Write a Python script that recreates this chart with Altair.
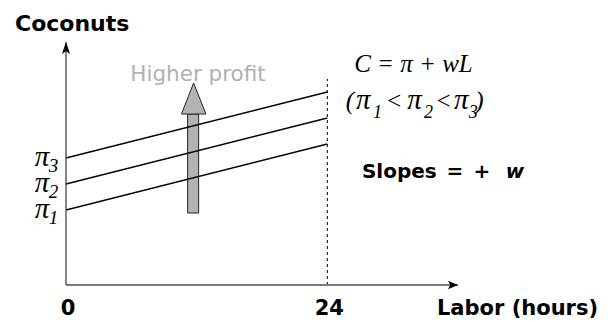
import altair as alt
import pandas as pd

# ---- data ----
profits = [7.5, 10.1, 12.7]          # intercepts pi1 < pi2 < pi3
profit_subs = ["1", "2", "3"]
wage = 0.275                         # common slope w
hours_max = 24                       # time endowment
x_ticks = [0, 24]
x_max, y_max = 36, 24.3              # axis extents (arrow tips)

# block arrow ("Higher profit")
shaft_x = [11.17, 12.18]
shaft_y = [7.2, 17.1]
head_x = [10.6, 11.72, 12.85]
head_y = [17.1, 20.2, 17.1]

W, H = 392, 243
xs = alt.Scale(domain=[0, x_max], nice=False, zero=False)
ys = alt.Scale(domain=[0, y_max], nice=False, zero=False)


def X(f="x"):
    return alt.X(f"{f}:Q", scale=xs, axis=None)


def Y(f="y"):
    return alt.Y(f"{f}:Q", scale=ys, axis=None)


SANS = "DejaVu Sans"
SERIF = "Liberation Serif"

# profit lines
rows = []
for i, p in enumerate(profits):
    for L in (0, hours_max):
        rows.append({"s": i, "x": L, "y": p + wage * L})
lines_df = pd.DataFrame(rows)

lines = alt.Chart(lines_df).mark_line(color="black", strokeWidth=1.3).encode(
    x=X(), y=Y(), detail="s:N"
)

# block arrow
shaft = alt.Chart(pd.DataFrame({"x": [shaft_x[0]], "x2": [shaft_x[1]],
                                "y": [shaft_y[0]], "y2": [shaft_y[1]]})).mark_rect(
    fill="#b3b3b3", stroke="#222", strokeWidth=1
).encode(x=X(), x2="x2:Q", y=Y(), y2="y2:Q")

head = alt.Chart(pd.DataFrame({"x": head_x, "y": head_y,
                               "y2": [head_y[0]] * 3})).mark_area(
    fill="#b3b3b3", stroke="#222", strokeWidth=1, opacity=1
).encode(x=X(), y=Y(), y2="y2:Q")

# dashed line at 24 hours
dash = alt.Chart(pd.DataFrame({"x": [hours_max], "y": [0], "y2": [20.6]})).mark_rule(
    color="black", strokeWidth=1, strokeDash=[3, 3]
).encode(x=X(), y=Y(), y2="y2:Q")

# axes
xaxis = alt.Chart(pd.DataFrame({"x": [0], "x2": [x_max], "y": [0]})).mark_rule(
    color="#7a7a7a", strokeWidth=2
).encode(x=X(), x2="x2:Q", y=Y())
yaxis = alt.Chart(pd.DataFrame({"x": [0], "y": [0], "y2": [y_max]})).mark_rule(
    color="#444", strokeWidth=1.3
).encode(x=X(), y=Y(), y2="y2:Q")

up_arrow = alt.Chart(pd.DataFrame({"x": [0], "y": [y_max]})).mark_point(
    shape="M0,0 L0.34,1 L0,0.78 L-0.34,1 Z", size=576, filled=True,
    color="black", opacity=1
).encode(x=X(), y=Y())
right_arrow = alt.Chart(pd.DataFrame({"x": [x_max], "y": [0]})).mark_point(
    shape="M0,0 L-1,-0.42 L-0.78,0 L-1,0.42 Z", size=400, filled=True,
    color="black", opacity=1
).encode(x=X(), y=Y())


def txt(df, **kw):
    base = dict(baseline="alphabetic", color="black")
    base.update(kw)
    return alt.Chart(pd.DataFrame(df)).mark_text(**base).encode(
        x=X(), y=Y(), text="t:N"
    )


coconuts = txt({"t": ["Coconuts"], "x": [-4.68], "y": [25.4]},
               font=SANS, fontWeight="bold", fontSize=22, align="left")
labor = txt({"t": ["Labor (hours)"], "x": [34.07], "y": [-3.0]},
            font=SANS, fontWeight="bold", fontSize=21, align="left")
ticks = txt({"t": [str(v) for v in x_ticks], "x": x_ticks, "y": [-3.0] * 2},
            font=SANS, fontWeight="bold", fontSize=21, align="center", dx=2)
higher = txt({"t": ["Higher profit"], "x": [12.12], "y": [20.4]},
             font=SANS, fontSize=21.5, align="center", color="#b0b0b0")
slopes = txt({"t": ["Slopes"], "x": [27.18], "y": [10.7]},
             font=SANS, fontWeight="bold", fontSize=20, align="left")
slopes_eq = txt({"t": ["=", "+"], "x": [35.72, 38.2], "y": [10.7] * 2},
                font=SANS, fontWeight="bold", fontSize=20, align="center")
slopes_w = txt({"t": ["w"], "x": [41.23], "y": [10.7]},
               font=SANS, fontWeight="bold", fontStyle="italic", fontSize=20,
               align="center")

formula = txt({"t": ["C = π + wL"], "x": [31.91], "y": [21.3]},
              font=SERIF, fontStyle="italic", fontSize=25, align="center")
order_par = txt({"t": ["(", "<", "<", ")"],
                 "x": [26.08, 30.12, 34.67, 37.97],
                 "y": [17.6] * 4},
                font=SERIF, fontStyle="italic", fontSize=25, align="center")
order_pi = txt({"t": ["π", "π", "π"], "x": [27.3, 32.0, 36.3], "y": [17.6] * 3},
               font=SERIF, fontStyle="italic", fontSize=29, align="center")
order_sub = txt({"t": profit_subs, "x": [28.6, 33.3, 37.4], "y": [16.7] * 3},
                font=SERIF, fontStyle="italic", fontSize=18, align="center")

# y-axis labels pi_1..pi_3 at the intercepts
pi_df = pd.DataFrame({"y": profits, "sub": profit_subs,
                      "x": [-2.2] * 3, "xs": [-1.15] * 3, "t": ["π"] * 3})
pi_lab = alt.Chart(pi_df).mark_text(
    font=SERIF, fontStyle="italic", fontSize=29, align="center",
    baseline="alphabetic", dy=8, color="black"
).encode(x=X(), y=Y(), text="t:N")
pi_sub = alt.Chart(pi_df).mark_text(
    font=SERIF, fontStyle="italic", fontSize=19, align="center",
    baseline="alphabetic", dy=14, color="black"
).encode(x=X("xs"), y=Y(), text="sub:N")

chart = alt.layer(
    shaft, head, lines, dash, xaxis, yaxis, up_arrow, right_arrow,
    coconuts, labor, ticks, higher, slopes, slopes_eq, slopes_w,
    formula, order_par, order_pi, order_sub, pi_lab, pi_sub
).properties(
    width=W, height=H, autosize="none",
    padding={"left": 58, "top": 34, "right": 142, "bottom": 37},
    background="white"
).configure_view(stroke=None)

chart.save("out.html", embed_options={"renderer": "svg", "actions": False})
